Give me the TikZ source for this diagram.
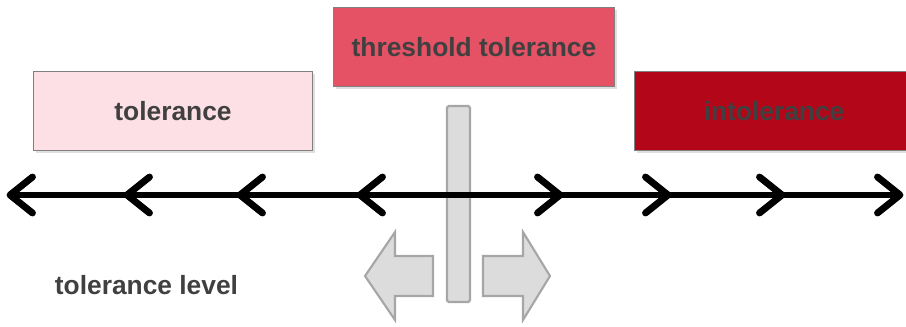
\documentclass[tikz,border=0pt]{standalone}
\usepackage{fontspec}
\newfontfamily\boxfont{Liberation Sans}
\usepackage{tikz}
\usetikzlibrary{positioning,shadows}
\usepackage{xcolor}
\definecolor{tolpink}{HTML}{FCE0E6}
\definecolor{thrred}{HTML}{E65265}
\definecolor{intolred}{HTML}{B30619}
\definecolor{boxline}{HTML}{808080}
\definecolor{labelgray}{HTML}{404040}
\definecolor{bargray}{HTML}{DCDCDC}
\definecolor{barline}{HTML}{A6A6A6}

\begin{document}
\begin{tikzpicture}
    \tikzset{
        levelbox/.style={draw=boxline, line width=1.2pt, minimum width=9.3cm, minimum height=2.63cm,
            inner sep=0pt, font=\boxfont\bfseries\fontsize{25}{30}\selectfont, text=labelgray,
            drop shadow={shadow xshift=2pt, shadow yshift=-2pt, opacity=0.25}},
        axisline/.style={line width=6.5pt, black},
        chevron/.style={line width=6.5pt, black, line cap=round, line join=round},
        blockarrow/.style={draw=barline, fill=bargray, line width=2pt, line join=miter}
    }
    \useasboundingbox (0,0) rectangle (30.2,10.867);

    % level boxes
    \node[levelbox, fill=tolpink] (tol) at (5.767,7.167) {tolerance};
    \node[levelbox, fill=thrred, minimum width=9.37cm] (thr) at (15.8,9.3) {threshold tolerance};
    \node[levelbox, fill=intolred] (intol) at (25.8,7.167) {intolerance};

    % threshold bar and shift arrows
    \draw[blockarrow, rounded corners=1.5pt] (14.9,0.8) rectangle (15.667,7.333);
    \draw[blockarrow] (12.167,1.667) -- (13.167,3.133) -- (13.167,2.333) -- (14.433,2.333)
        -- (14.433,1.0) -- (13.167,1.0) -- (13.167,0.2) -- cycle;
    \draw[blockarrow] (18.333,1.667) -- (17.433,3.133) -- (17.433,2.333) -- (16.1,2.333)
        -- (16.1,1.0) -- (17.433,1.0) -- (17.433,0.2) -- cycle;

    % tolerance axis
    \coordinate (axisL) at (0.333,4.367);
    \coordinate (axisR) at (30.0,4.367);
    \coordinate (splitL) at (13.9,4.367);
    \coordinate (splitR) at (16.1,4.367);
    \draw[axisline] (splitR) -- (axisL);
    \draw[axisline] (splitL) -- (axisR);
    \foreach \x in {0.333, 4.233, 8.0, 12.0} {
        \draw[chevron] (\x+0.75,4.967) -- (\x,4.367) -- (\x+0.75,3.767);
    }
    \foreach \x in {18.667, 22.267, 26.067, 30.0} {
        \draw[chevron] (\x-0.75,4.967) -- (\x,4.367) -- (\x-0.75,3.767);
    }

    \node[font=\boxfont\bfseries\fontsize{25}{30}\selectfont, text=labelgray] (lvl) at (4.883,1.367) {tolerance level};
\end{tikzpicture}
\end{document}
